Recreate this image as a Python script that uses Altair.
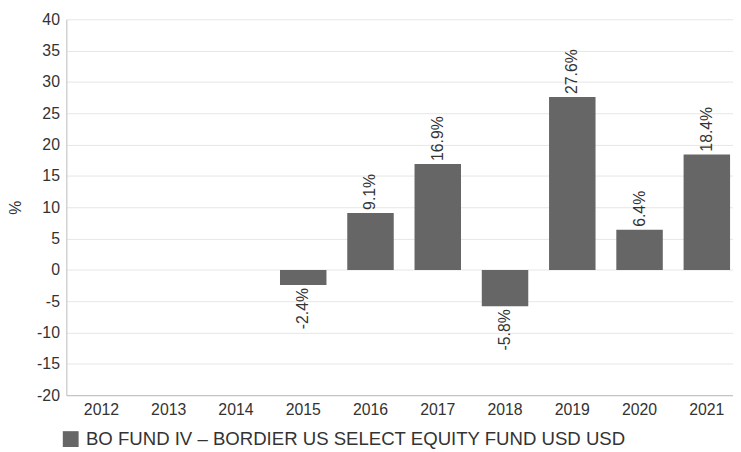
import altair as alt
import pandas as pd

years = ["2012", "2013", "2014", "2015", "2016", "2017", "2018", "2019", "2020", "2021"]
data_years = ["2015", "2016", "2017", "2018", "2019", "2020", "2021"]
returns = [-2.4, 9.1, 16.9, -5.8, 27.6, 6.4, 18.4]
series_name = "BO FUND IV – BORDIER US SELECT EQUITY FUND USD USD"
y_ticks = list(range(-20, 45, 5))

df = pd.DataFrame({
    "year": data_years,
    "value": returns,
    "label": [f"{v:.1f}%" for v in returns],
    "series": [series_name] * len(returns),
})

FONT = "Liberation Sans"
TXT = "#333333"

x = alt.X("year:N",
          scale=alt.Scale(domain=years, paddingInner=0.309, paddingOuter=0.176, range=[0, 683]),
          axis=alt.Axis(title=None, labelAngle=0, ticks=False, labelFontSize=16,
                        labelColor=TXT, labelFont=FONT, domainColor="#bbbbbb",
                        labelPadding=7))
y = alt.Y("value:Q", scale=alt.Scale(domain=[-20, 40], nice=False),
          axis=alt.Axis(title="%", values=y_ticks, ticks=False, labelFontSize=16,
                        labelColor=TXT, labelFont=FONT, domainColor="#bbbbbb",
                        labelExpr="replace(datum.label, '−', '-')",
                        gridColor="#e6e6e6", titleFontSize=16, titleFont=FONT,
                        titleColor=TXT, titleFontWeight="normal", labelPadding=7,
                        titlePadding=13))

base = alt.Chart(df)

bars = base.mark_bar().encode(
    x=x, y=y,
    color=alt.Color("series:N", scale=alt.Scale(domain=[series_name], range=["#666666"]),
                    legend=alt.Legend(title=None, orient="none", legendX=-5, legendY=415,
                                      symbolType="square", symbolSize=256,
                                      symbolStrokeWidth=0, labelFontSize=18.8,
                                      labelOffset=6, padding=0,
                                      labelFont=FONT, labelColor=TXT, labelLimit=800)),
)

pos = base.transform_filter("datum.value >= 0").mark_text(
    angle=270, align="left", baseline="middle", dx=3, fontSize=16, font=FONT, color=TXT
).encode(x=x, y=y, text="label:N")

neg = base.transform_filter("datum.value < 0").mark_text(
    angle=270, align="right", baseline="middle", dx=-3, fontSize=16, font=FONT, color=TXT
).encode(x=x, y=y, text="label:N")

chart = alt.layer(bars, pos, neg).properties(
    width=674, height=380,
    autosize="none",
    padding={"left": 59, "top": 9, "right": 0, "bottom": 53},
).configure_view(stroke=None).configure_axisX(grid=False)

chart.save("out.html", embed_options={"renderer": "svg", "actions": False})
